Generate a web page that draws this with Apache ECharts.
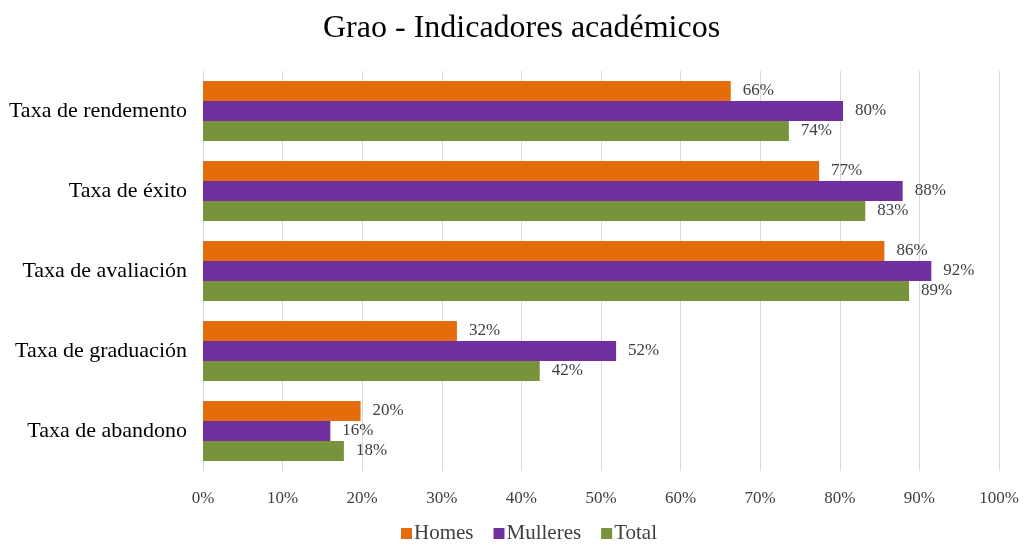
<!DOCTYPE html>
<html>
<head>
<meta charset="utf-8">
<script src="https://cdn.jsdelivr.net/npm/echarts@6/dist/echarts.min.js"></script>
<style>
html, body { margin: 0; padding: 0; background: #fff; }
#chart { width: 1024px; height: 544px; }
</style>
</head>
<body>
<div id="chart"></div>
<script>
var categories = ['Taxa de rendemento', 'Taxa de éxito', 'Taxa de avaliación', 'Taxa de graduación', 'Taxa de abandono'];
var homes = [0.663, 0.774, 0.856, 0.319, 0.198];
var mulleres = [0.804, 0.879, 0.915, 0.519, 0.160];
var total = [0.736, 0.832, 0.887, 0.423, 0.177];
var xTicks = [0, 0.1, 0.2, 0.3, 0.4, 0.5, 0.6, 0.7, 0.8, 0.9, 1];

var fontFam = '"Liberation Serif", "DejaVu Serif", serif';

function mkSeries(name, data, color) {
	return {
		name: name,
		type: 'bar',
		data: data,
		barGap: '0%',
		barCategoryGap: '25%',
		itemStyle: { color: color },
		label: {
			show: true,
			position: 'right',
			distance: 12,
			color: '#404040',
			fontSize: 17,
			fontFamily: fontFam,
			formatter: function(p) {
				return Math.round(p.value * 100) + '%';
			}
		}
	};
}

var chart = echarts.init(document.getElementById('chart'));
var option = {
	animation: false,
	title: {
		text: 'Grao - Indicadores académicos',
		left: 318,
		top: 8,
		textStyle: { fontFamily: fontFam, fontSize: 32, fontWeight: 'normal', color: '#000' }
	},
	legend: {
		top: 518,
		left: 396,
		itemWidth: 11,
		itemHeight: 11,
		itemGap: 20,
		icon: 'rect',
		textStyle: { fontFamily: fontFam, fontSize: 21, color: '#404040', padding: [0, 0, 0, -3] },
		data: ['Homes', 'Mulleres', 'Total']
	},
	grid: { left: 203, right: 25, top: 71, height: 400 },
	xAxis: {
		type: 'value',
		min: 0,
		max: 1,
		interval: 0.1,
		axisLine: { show: false },
		axisTick: { show: false },
		splitLine: { lineStyle: { color: '#d9d9d9', width: 1 } },
		axisLabel: {
			fontFamily: fontFam,
			fontSize: 17,
			color: '#404040',
			margin: 19,
			formatter: function(v) {
				var i = xTicks.indexOf(Math.round(v * 10) / 10);
				return Math.round(xTicks[i] * 100) + '%';
			}
		}
	},
	yAxis: {
		type: 'category',
		inverse: true,
		data: categories,
		axisLine: { show: false },
		axisTick: { show: false },
		axisLabel: { fontFamily: fontFam, fontSize: 22, color: '#000', margin: 16 }
	},
	series: [
		mkSeries('Homes', homes, '#e46c0a'),
		mkSeries('Mulleres', mulleres, '#7030a0'),
		mkSeries('Total', total, '#77933c')
	]
};
chart.setOption(option);
</script>
</body>
</html>
